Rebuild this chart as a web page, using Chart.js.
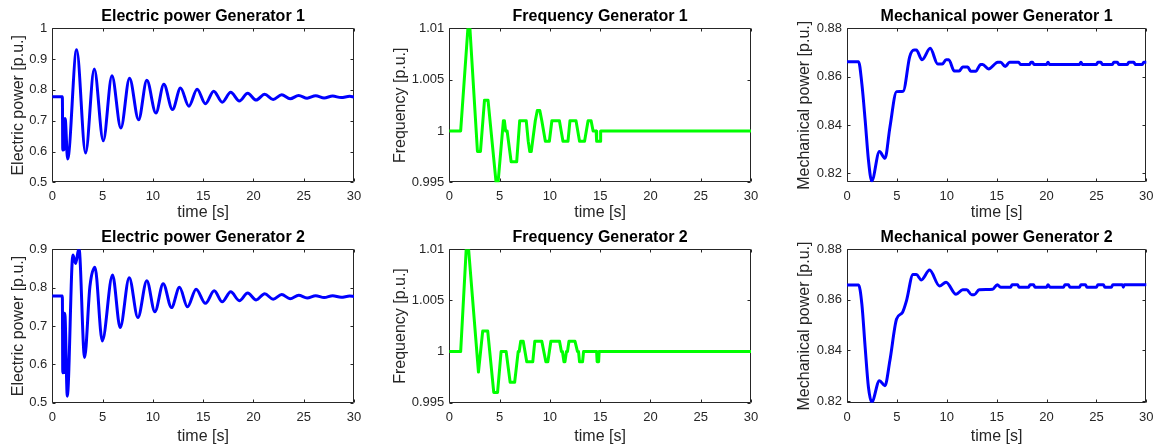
<!DOCTYPE html>
<html><head><meta charset="utf-8">
<script src="https://cdn.jsdelivr.net/npm/chart.js@4"></script>
<style>
html,body{margin:0;padding:0;background:#fff;}
#wrap{position:relative;width:1160px;height:446px;overflow:hidden;background:#fff;}
canvas{position:absolute;}
</style></head><body><div id="wrap">
<canvas id="c1" width="380" height="224" style="left:0px;top:0px"></canvas>
<canvas id="c2" width="395" height="224" style="left:380px;top:0px"></canvas>
<canvas id="c3" width="385" height="224" style="left:775px;top:0px"></canvas>
<canvas id="c4" width="380" height="222" style="left:0px;top:224px"></canvas>
<canvas id="c5" width="395" height="222" style="left:380px;top:224px"></canvas>
<canvas id="c6" width="385" height="222" style="left:775px;top:224px"></canvas>
</div>
<script>
// ---------- data ----------
const xTicks = [0, 5, 10, 15, 20, 25, 30];
const xTickLabels = ['0', '5', '10', '15', '20', '25', '30'];

const epTicks1 = [0.5, 0.6, 0.7, 0.8, 0.9, 1.0];
const epTickLabels1 = ['0.5', '0.6', '0.7', '0.8', '0.9', '1'];
const epTicks2 = [0.5, 0.6, 0.7, 0.8, 0.9];
const epTickLabels2 = ['0.5', '0.6', '0.7', '0.8', '0.9'];
const frTicks = [0.995, 1.0, 1.005, 1.01];
const frTickLabels = ['0.995', '1', '1.005', '1.01'];
const mpTicks = [0.82, 0.84, 0.86, 0.88];
const mpTickLabels = ['0.82', '0.84', '0.86', '0.88'];

// Electric power Generator 1
const ep1Time = [0, 1.0, 1.04, 1.17, 1.25, 1.31, 1.52, 2.42, 3.31, 4.17, 5.07, 5.93, 6.82, 7.68, 8.58, 9.40, 10.3, 11.09, 11.95, 12.75, 13.58, 14.4, 15.23, 16.05, 16.9, 17.74, 18.6, 19.43, 20.27, 21.12, 21.96, 22.81, 23.65, 24.5, 25.34, 26.19, 27.03, 27.88, 28.72, 29.57, 30];
const ep1Val  = [0.778, 0.778, 0.605, 0.607, 0.707, 0.700, 0.576, 0.930, 0.595, 0.868, 0.635, 0.846, 0.676, 0.838, 0.703, 0.831, 0.725, 0.818, 0.736, 0.806, 0.747, 0.802, 0.755, 0.796, 0.760, 0.792, 0.764, 0.789, 0.767, 0.786, 0.769, 0.784, 0.771, 0.782, 0.773, 0.781, 0.774, 0.780, 0.775, 0.779, 0.777];

// Electric power Generator 2
const ep2Time = [0, 1.0, 1.04, 1.15, 1.2, 1.27, 1.49, 2.05, 2.32, 2.65, 3.21, 3.74, 4.24, 4.97, 5.99, 6.75, 7.65, 8.51, 9.4, 10.2, 11.03, 11.85, 12.65, 13.44, 14.3, 15.23, 16.1, 16.9, 17.74, 18.6, 19.43, 20.27, 21.12, 21.96, 22.81, 23.65, 24.5, 25.34, 26.19, 27.03, 27.88, 28.72, 29.57, 30];
const ep2Val  = [0.778, 0.778, 0.578, 0.580, 0.733, 0.725, 0.517, 0.885, 0.863, 0.903, 0.618, 0.803, 0.853, 0.661, 0.833, 0.696, 0.826, 0.722, 0.818, 0.737, 0.810, 0.748, 0.801, 0.750, 0.796, 0.759, 0.792, 0.763, 0.789, 0.766, 0.786, 0.768, 0.784, 0.770, 0.782, 0.771, 0.780, 0.773, 0.779, 0.774, 0.779, 0.775, 0.778, 0.777];

// Frequency Generator 1
const fr1Time = [0, 1.13, 1.85, 2.05, 2.8, 3.1, 3.5, 3.85, 4.65, 4.85, 5.38, 5.48, 5.6, 5.75, 6.15, 6.7, 7.0, 7.65, 7.85, 8.0, 8.15, 8.55, 8.75, 9.0, 9.2, 9.55, 9.95, 10.2, 10.95, 11.3, 11.8, 12.0, 12.6, 12.95, 13.45, 13.8, 14.1, 14.3, 14.6, 14.65, 15.0, 15.05, 30];
const fr1Val  = [1.000, 1.000, 1.010, 1.010, 0.998, 0.998, 1.003, 1.003, 0.995, 0.995, 1.001, 1.001, 1.000, 1.000, 0.997, 0.997, 1.001, 1.001, 0.999, 0.998, 0.998, 1.001, 1.002, 1.002, 1.001, 0.999, 0.999, 1.001, 1.001, 0.999, 0.999, 1.001, 1.001, 0.999, 0.999, 1.001, 1.001, 1.000, 1.000, 0.999, 0.999, 1.000, 1.000];

// Frequency Generator 2
const fr2Time = [0, 1.13, 1.68, 1.92, 2.9, 2.95, 3.32, 3.82, 4.42, 4.8, 5.15, 5.65, 6.05, 6.5, 6.85, 6.95, 7.1, 7.35, 7.7, 8.3, 8.5, 9.2, 9.6, 9.8, 10.1, 10.96, 11.15, 11.25, 11.4, 11.5, 11.65, 11.75, 11.9, 12.5, 12.75, 12.85, 12.95, 13.25, 13.35, 14.65, 14.7, 14.85, 14.9, 30];
const fr2Val  = [1.000, 1.000, 1.010, 1.010, 0.998, 0.998, 1.002, 1.002, 0.996, 0.996, 1.000, 1.000, 0.997, 0.997, 1.000, 1.000, 1.001, 1.001, 0.999, 0.999, 1.001, 1.001, 0.999, 0.999, 1.001, 1.001, 1.000, 1.000, 0.999, 0.999, 1.000, 1.000, 1.001, 1.001, 1.000, 1.000, 0.999, 0.999, 1.000, 1.000, 0.999, 0.999, 1.000, 1.000];

// Mechanical power Generator 1
const mp1Time = [0, 1.16, 1.49, 1.82, 2.15, 2.48, 3.25, 3.81, 4.3, 4.97, 5.63, 6.29, 6.72, 6.95, 7.52, 8.34, 9.1, 9.55, 9.93, 10.2, 10.76, 11.25, 11.6, 12.1, 12.4, 12.9, 13.4, 13.6, 14.2, 14.9, 15.1, 15.4, 15.86, 16.3, 17.2, 17.4, 18.3, 18.45, 18.6, 18.75, 20.0, 20.15, 20.3, 23.3, 23.45, 23.6, 25.0, 25.15, 25.45, 25.6, 26.6, 26.75, 27.1, 27.25, 28.1, 28.25, 28.75, 28.9, 29.6, 29.75, 30];
const mp1Val  = [0.8662, 0.8662, 0.857, 0.842, 0.8255, 0.8168, 0.829, 0.8262, 0.839, 0.8538, 0.854, 0.8683, 0.871, 0.871, 0.867, 0.8717, 0.8652, 0.8652, 0.867, 0.867, 0.8623, 0.8623, 0.864, 0.864, 0.8622, 0.8622, 0.865, 0.865, 0.8632, 0.8655, 0.866, 0.866, 0.8642, 0.866, 0.866, 0.865, 0.865, 0.866, 0.866, 0.865, 0.865, 0.866, 0.865, 0.865, 0.866, 0.865, 0.865, 0.866, 0.866, 0.865, 0.865, 0.866, 0.866, 0.865, 0.865, 0.866, 0.866, 0.865, 0.865, 0.866, 0.866];

// Mechanical power Generator 2
const mp2Time = [0, 1.16, 1.49, 1.82, 2.15, 2.48, 3.25, 3.8, 4.3, 4.97, 5.56, 5.96, 6.62, 6.95, 7.45, 8.28, 9.27, 9.93, 10.93, 11.6, 12.0, 12.5, 12.75, 13.25, 14.6, 15.07, 15.4, 16.4, 16.55, 17.1, 17.25, 18.2, 18.35, 18.7, 18.85, 20.0, 20.15, 20.35, 21.7, 21.85, 22.2, 22.35, 23.3, 23.45, 23.9, 24.05, 25.0, 25.15, 25.7, 25.85, 26.5, 26.65, 27.6, 27.7, 27.8, 30];
const mp2Val  = [0.8659, 0.8659, 0.8583, 0.8412, 0.8254, 0.8195, 0.828, 0.826, 0.836, 0.8524, 0.855, 0.8596, 0.870, 0.870, 0.8679, 0.8718, 0.8655, 0.867, 0.8622, 0.864, 0.864, 0.862, 0.862, 0.864, 0.8642, 0.866, 0.865, 0.865, 0.866, 0.866, 0.865, 0.865, 0.866, 0.866, 0.865, 0.865, 0.866, 0.865, 0.865, 0.866, 0.866, 0.865, 0.865, 0.866, 0.866, 0.865, 0.865, 0.866, 0.866, 0.865, 0.865, 0.866, 0.866, 0.865, 0.866, 0.866];

// ---------- styling ----------
const FONT = '"Liberation Sans", Arial, Helvetica, sans-serif';
const AX = '#262626';
const BLUE = '#0000ff';
const GREEN = '#00ff00';

const boxPlugin = {
  id: 'matlabBox',
  beforeDatasetsDraw(chart) {
    const ctx = chart.ctx;
    const a = chart.chartArea;
    const L = Math.round(a.left) + 0.5, R = Math.round(a.right) - 0.5;
    const T = Math.round(a.top) + 0.5, B = Math.round(a.bottom) - 0.5;
    const tl = 3;
    ctx.save();
    ctx.strokeStyle = AX;
    ctx.lineWidth = 1;
    ctx.beginPath();
    ctx.rect(L, T, R - L, B - T);
    const xs = chart.scales.x, ys = chart.scales.y;
    xs.ticks.forEach(t => {
      const px = Math.round(xs.getPixelForValue(t.value)) + 0.5;
      ctx.moveTo(px, B); ctx.lineTo(px, B - tl);
      ctx.moveTo(px, T); ctx.lineTo(px, T + tl);
    });
    ys.ticks.forEach(t => {
      const py = Math.round(ys.getPixelForValue(t.value)) + 0.5;
      ctx.moveTo(L, py); ctx.lineTo(L + tl, py);
      ctx.moveTo(R, py); ctx.lineTo(R - tl, py);
    });
    ctx.stroke();
    ctx.restore();
  }
};

function makeChart(id, c) {
  new Chart(document.getElementById(id), {
    type: 'line',
    data: {
      datasets: [{
        data: c.t.map((t, i) => ({ x: t, y: c.v[i] })),
        borderColor: c.color,
        borderWidth: 3,
        pointRadius: 0,
        fill: false,
        tension: 0,
        cubicInterpolationMode: c.smooth ? 'monotone' : 'default',
        borderJoinStyle: 'round',
        borderCapStyle: 'round'
      }]
    },
    options: {
      responsive: false,
      animation: false,
      devicePixelRatio: 1,
      layout: { padding: { left: c.pl, right: c.pr, top: c.pt, bottom: 0 } },
      plugins: {
        legend: { display: false },
        tooltip: { enabled: false },
        title: {
          display: true, text: c.title, fullSize: false, color: '#000',
          font: { family: FONT, size: 16, weight: 'bold' },
          padding: { top: 0, bottom: c.tb }
        }
      },
      scales: {
        x: {
          type: 'linear', min: 0, max: 30,
          grid: { display: false, drawTicks: false },
          border: { display: false },
          afterBuildTicks: s => { s.ticks = xTicks.map(v => ({ value: v })); },
          afterFit: s => { s.height = c.xH; },
          ticks: {
            color: AX, font: { family: FONT, size: 13 }, padding: 6.5,
            maxRotation: 0, autoSkip: false,
            callback: (v, i) => xTickLabels[i]
          },
          title: {
            display: true, text: 'time [s]', color: AX,
            font: { family: FONT, size: 16 }, padding: { top: 0, bottom: c.xtb }
          }
        },
        y: {
          type: 'linear', min: c.ymin, max: c.ymax,
          grid: { display: false, drawTicks: false },
          border: { display: false },
          afterBuildTicks: s => { s.ticks = c.yt.map(v => ({ value: v })); },
          afterFit: s => { s.width = c.yW; },
          ticks: {
            color: AX, font: { family: FONT, size: 13 }, padding: 5,
            autoSkip: false,
            callback: (v, i) => c.yl[i]
          },
          title: {
            display: true, text: c.ytitle, color: AX,
            font: { family: FONT, size: 16 }, padding: { top: 0, bottom: 0 }
          }
        }
      }
    },
    plugins: [boxPlugin]
  });
}

const row1 = { pt: 6.9, tb: 2.2, xH: 41.7, xtb: 1.4 };
const row2 = { pt: 4.4, tb: 1.7, xH: 43.3, xtb: 0 };
const col1 = { pl: 8.7, yW: 43.6, pr: 26 };
const col2 = { pl: 11.1, yW: 58.2, pr: 24 };
const col3 = { pl: 20.4, yW: 51.6, pr: 11 };

makeChart('c1', Object.assign({}, row1, col1, { title: 'Electric power Generator 1', ytitle: 'Electric power [p.u.]', t: ep1Time, v: ep1Val, color: BLUE, smooth: true, ymin: 0.5, ymax: 1.0, yt: epTicks1, yl: epTickLabels1 }));
makeChart('c2', Object.assign({}, row1, col2, { title: 'Frequency Generator 1', ytitle: 'Frequency [p.u.]', t: fr1Time, v: fr1Val, color: GREEN, smooth: false, ymin: 0.995, ymax: 1.01, yt: frTicks, yl: frTickLabels }));
makeChart('c3', Object.assign({}, row1, col3, { title: 'Mechanical power Generator 1', ytitle: 'Mechanical power [p.u.]', t: mp1Time, v: mp1Val, color: BLUE, smooth: true, ymin: 0.8163, ymax: 0.88, yt: mpTicks, yl: mpTickLabels }));
makeChart('c4', Object.assign({}, row2, col1, { title: 'Electric power Generator 2', ytitle: 'Electric power [p.u.]', t: ep2Time, v: ep2Val, color: BLUE, smooth: true, ymin: 0.5, ymax: 0.9, yt: epTicks2, yl: epTickLabels2 }));
makeChart('c5', Object.assign({}, row2, col2, { title: 'Frequency Generator 2', ytitle: 'Frequency [p.u.]', t: fr2Time, v: fr2Val, color: GREEN, smooth: false, ymin: 0.995, ymax: 1.01, yt: frTicks, yl: frTickLabels }));
makeChart('c6', Object.assign({}, row2, col3, { title: 'Mechanical power Generator 2', ytitle: 'Mechanical power [p.u.]', t: mp2Time, v: mp2Val, color: BLUE, smooth: true, ymin: 0.8193, ymax: 0.88, yt: mpTicks, yl: mpTickLabels }));
</script>
</body></html>
